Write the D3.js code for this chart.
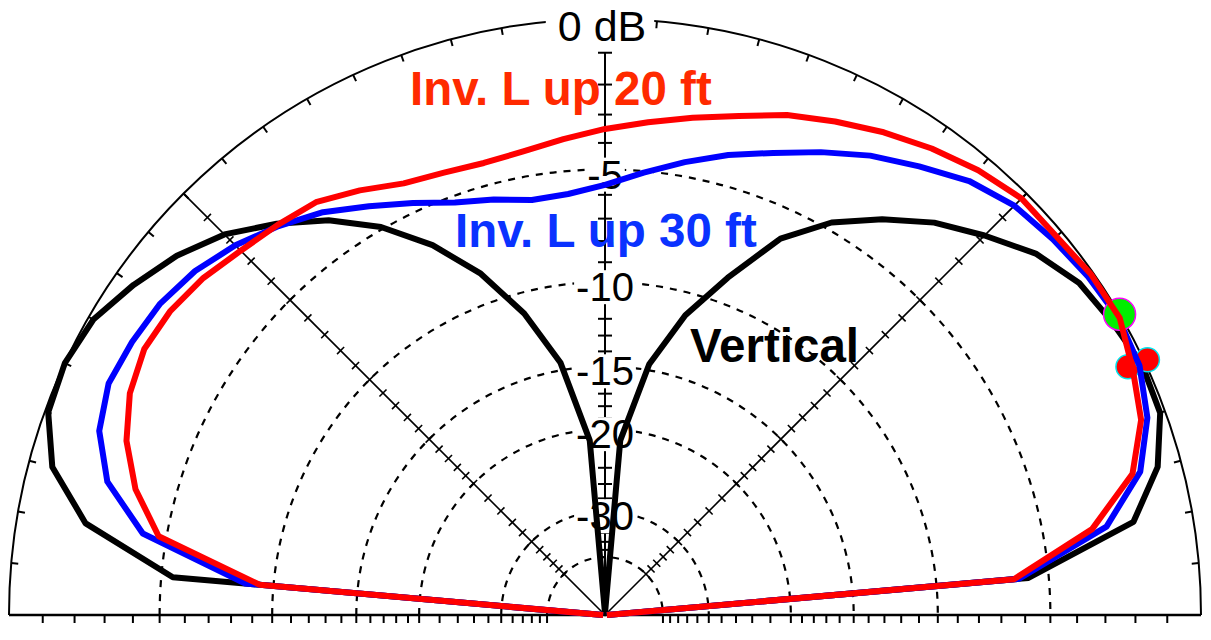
<!DOCTYPE html>
<html>
<head>
<meta charset="utf-8">
<script src="https://cdn.jsdelivr.net/npm/d3@7"></script>
<style>
  body { margin: 0; background: #fff; }
  text { font-family: "Liberation Sans", Arial, Helvetica, sans-serif; }
</style>
</head>
<body>
<div id="plot"></div>
<script>
// elevation angle (deg, 0 = right horizon) and gain in dB
const angles = [0, 5, 10, 15, 20, 25, 30, 35, 40, 45, 50, 55, 60, 65, 70, 75, 80, 85, 90,
  95, 100, 105, 110, 115, 120, 125, 130, 135, 140, 145, 150, 155, 160, 165, 170, 175, 180];

const vertGain = [-99, -5.8, -1.8, -0.7, -0.15, -0.1, -0.3, -0.5, -1.0, -1.8, -2.6, -3.6, -4.7, -6.2, -8.7, -11.2, -14.6, -21, -99,
  -21, -14.5, -11.1, -8.5, -6.5, -4.9, -3.65, -2.65, -1.75, -1.1, -0.6, -0.15, 0, -0.1, -0.7, -2.1, -5.45, -99];

const inv20Gain = [-99, -6.4, -3.2, -1.5, -0.75, -0.4, -0.05, -0.07, -0.2, -0.2, -0.45, -0.78, -1.15, -1.55, -1.95, -2.45, -2.85, -3.2, -3.5,
  -3.8, -4.05, -4.15, -4.05, -3.85, -3.35, -2.88, -2.7, -2.5, -2.2, -2.0, -1.95, -2.2, -2.7, -3.5, -4.7, -9.3, -99];

const inv30Gain = [-99, -6.2, -2.7, -1.25, -0.55, -0.18, -0.08, -0.18, -0.33, -0.5, -0.87, -1.45, -2.0, -2.65, -3.3, -3.85, -4.45, -5.05, -5.6,
  -5.9, -5.95, -5.6, -5.25, -4.65, -4.0, -3.3, -2.75, -2.25, -1.85, -1.6, -1.5, -1.45, -1.75, -2.5, -4.1, -8.6, -99];

// cursor markers
const markerAngles = [25.4, 25.2, 30.3];
const markerGains = [-0.5, 0.1, 0];

const ringLevels = [-5, -10, -15, -20, -30, -40];
const ringLabels = ['-5', '-10', '-15', '-20', '-30'];
const tickLevels = [-1, -2, -3, -4, -6, -7, -8, -9, -11, -12, -13, -14, -16, -17, -18, -19,
  -22, -24, -26, -28, -32, -34, -36, -38];

const width = 1211;
const height = 640;
const cx = 605, cy = 615, R = 596;

const svg = d3.select('#plot')
  .append('svg')
  .attr('width', width)
  .attr('height', height)
  .attr('viewBox', [0, 0, width, height]);

svg.append('rect').attr('width', width).attr('height', height).attr('fill', '#fff');

// ARRL log scale: each 2 dB -> 0.89 of the radius
const gain = d3.scaleLog()
  .domain([R * Math.pow(0.89, 20), R])
  .range([-40, 0]);
const rad = dB => gain.invert(dB);

const ang = d3.scaleLinear()
  .domain([0, 180])
  .range([Math.PI / 2, -Math.PI / 2]);

const px = (a, r) => r * Math.sin(ang(a));
const py = (a, r) => -r * Math.cos(ang(a));

const g = svg.append('g').attr('transform', `translate(${cx},${cy})`);
const grid = g.append('g').attr('stroke', '#000').attr('fill', 'none');

// dashed rings
ringLevels.forEach(lv => {
  const p = d3.path();
  p.arc(0, 0, rad(lv), Math.PI, 2 * Math.PI);
  grid.append('path').attr('d', p.toString())
    .attr('stroke-width', 2.2)
    .attr('stroke-dasharray', '7,7');
});

// outer circle
const outer = d3.path();
outer.arc(0, 0, R, Math.PI, 2 * Math.PI);
grid.append('path').attr('d', outer.toString()).attr('stroke-width', 2);

// ticks on outer circle every 5 deg
grid.selectAll('.otick')
  .data(d3.range(5, 180, 5))
  .join('line')
  .attr('x1', d => px(d, R)).attr('y1', d => py(d, R))
  .attr('x2', d => px(d, R - 7)).attr('y2', d => py(d, R - 7))
  .attr('stroke-width', 2);

// 45 / 135 deg spokes with dB ticks
[45, 135].forEach(a => {
  grid.append('line')
    .attr('x1', 0).attr('y1', 0)
    .attr('x2', px(a, R)).attr('y2', py(a, R))
    .attr('stroke-width', 1.6);
  grid.selectAll(null)
    .data(tickLevels.concat(ringLevels))
    .join('line')
    .attr('x1', d => px(a, rad(d)) + px(a + 90, 5)).attr('y1', d => py(a, rad(d)) + py(a + 90, 5))
    .attr('x2', d => px(a, rad(d)) - px(a + 90, 5)).attr('y2', d => py(a, rad(d)) - py(a + 90, 5))
    .attr('stroke-width', 1.6);
});

// vertical dB axis
grid.append('line')
  .attr('x1', 0).attr('y1', 0)
  .attr('x2', 0).attr('y2', -rad(-1))
  .attr('stroke-width', 2);
grid.selectAll('.vtick')
  .data(tickLevels)
  .join('line')
  .attr('x1', -7).attr('x2', 7)
  .attr('y1', d => -rad(d)).attr('y2', d => -rad(d))
  .attr('stroke-width', 2);

// baseline with ticks
grid.append('line')
  .attr('x1', -R).attr('x2', R).attr('y1', 0).attr('y2', 0)
  .attr('stroke-width', 2.6);
[-1, 1].forEach(s => {
  grid.selectAll(null)
    .data(tickLevels.concat(ringLevels))
    .join('line')
    .attr('x1', d => s * rad(d)).attr('x2', d => s * rad(d))
    .attr('y1', 0).attr('y2', 8)
    .attr('stroke-width', 2);
});

// ring labels on the vertical axis
ringLabels.forEach((t, i) => {
  const y = -rad(ringLevels[i]) + 5;
  const lab = g.append('g');
  const txt = lab.append('text')
    .attr('x', 0).attr('y', y)
    .attr('text-anchor', 'middle')
    .attr('dominant-baseline', 'central')
    .attr('font-size', 40)
    .attr('fill', '#000')
    .text(t);
  const bb = txt.node().getBBox();
  lab.insert('rect', 'text')
    .attr('x', bb.x - 2).attr('y', bb.y + 5)
    .attr('width', bb.width + 4).attr('height', bb.height - 10)
    .attr('fill', '#fff');
});

// 0 dB label
const zeroLab = g.append('g');
const t0 = zeroLab.append('text')
  .attr('x', -3).attr('y', -R + 22)
  .attr('text-anchor', 'middle')
  .attr('font-size', 43)
  .attr('fill', '#000')
  .text('0 dB');
const b0 = t0.node().getBBox();
zeroLab.insert('rect', 'text')
  .attr('x', b0.x - 12).attr('y', b0.y)
  .attr('width', b0.width + 20).attr('height', b0.height - 4)
  .attr('fill', '#fff');

// pattern lines
const line = d3.lineRadial()
  .angle(d => ang(d[0]))
  .radius(d => rad(d[1]))
  .curve(d3.curveLinear);

const pts = vals => angles.map((a, i) => [a, vals[i]]);

g.append('path').attr('d', line(pts(vertGain)))
  .attr('fill', 'none').attr('stroke', '#000').attr('stroke-width', 6).attr('stroke-linejoin', 'round');

// red marker pair
[0, 1].forEach(i => {
  g.append('circle')
    .attr('cx', px(markerAngles[i], rad(markerGains[i])))
    .attr('cy', py(markerAngles[i], rad(markerGains[i])))
    .attr('r', 12)
    .attr('fill', '#ff0000')
    .attr('stroke', '#00e5ee').attr('stroke-width', 1.5);
});

g.append('path').attr('d', line(pts(inv30Gain)))
  .attr('fill', 'none').attr('stroke', '#0000ff').attr('stroke-width', 6).attr('stroke-linejoin', 'round');

g.append('circle')
  .attr('cx', px(markerAngles[2], rad(markerGains[2])))
  .attr('cy', py(markerAngles[2], rad(markerGains[2])))
  .attr('r', 16)
  .attr('fill', '#00ee00')
  .attr('stroke', '#ff00ff').attr('stroke-width', 1.5);

g.append('path').attr('d', line(pts(inv20Gain)))
  .attr('fill', 'none').attr('stroke', '#ff0000').attr('stroke-width', 6).attr('stroke-linejoin', 'round');

// annotations
svg.append('text').attr('x', 410).attr('y', 105)
  .attr('font-size', 47.5).attr('font-weight', 'bold').attr('fill', '#ff2a00')
  .text('Inv. L up 20 ft');
svg.append('text').attr('x', 455).attr('y', 247)
  .attr('font-size', 47.5).attr('font-weight', 'bold').attr('fill', '#0a32ff')
  .text('Inv. L up 30 ft');
svg.append('text').attr('x', 690).attr('y', 362)
  .attr('font-size', 47.5).attr('font-weight', 'bold').attr('fill', '#000')
  .text('Vertical');
</script>
</body>
</html>
